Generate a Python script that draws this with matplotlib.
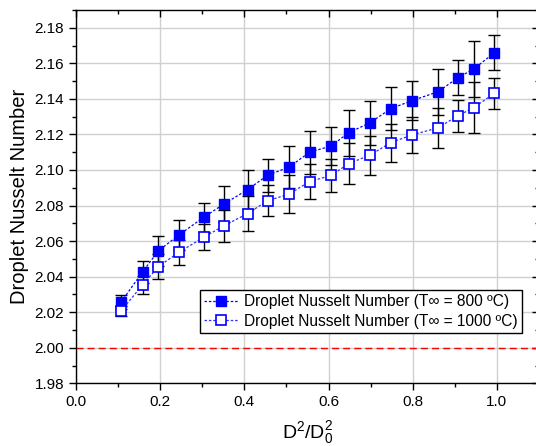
import numpy as np
import matplotlib
matplotlib.use("Agg")
import matplotlib.pyplot as plt
from matplotlib.ticker import MultipleLocator

plt.rcParams['font.family'] = ['Liberation Sans', 'DejaVu Sans']
plt.rcParams['mathtext.default'] = 'regular'

# D^2/D0^2 positions
x = [0.107, 0.158, 0.196, 0.245, 0.304, 0.351, 0.408, 0.455, 0.506, 0.555,
     0.606, 0.648, 0.698, 0.748, 0.798, 0.860, 0.908, 0.945, 0.994]

# Nusselt number, T = 800 C
nu_800 = [2.0257, 2.0426, 2.0546, 2.0635, 2.0735, 2.0808, 2.0890, 2.0970, 2.1016, 2.1100,
          2.1135, 2.1210, 2.1265, 2.1345, 2.1390, 2.1440, 2.1520, 2.1568, 2.1660]
err_800 = [0.0037, 0.0060, 0.0084, 0.0083, 0.0082, 0.0100, 0.0110, 0.0093, 0.0120, 0.0120,
           0.0105, 0.0130, 0.0125, 0.0120, 0.0110, 0.0130, 0.0100, 0.0160, 0.0100]

# Nusselt number, T = 1000 C
nu_1000 = [2.0207, 2.0353, 2.0457, 2.0538, 2.0622, 2.0686, 2.0755, 2.0827, 2.0864, 2.0935,
           2.0969, 2.1036, 2.1083, 2.1154, 2.1197, 2.1237, 2.1306, 2.1351, 2.1431]
err_1000 = [0.0027, 0.0050, 0.0070, 0.0070, 0.0073, 0.0090, 0.0097, 0.0087, 0.0107, 0.0100,
            0.0094, 0.0114, 0.0110, 0.0107, 0.0100, 0.0113, 0.0090, 0.0144, 0.0086]

fig = plt.figure(figsize=(5.36, 4.46), dpi=100)
ax = fig.add_axes([76 / 536, 1 - 383.3 / 446, 463 / 536, 373.3 / 446])

# reference line at Nu = 2
ax.axhline(2.0, color='red', linestyle=(0, (5, 3)), linewidth=1.0, zorder=2)

# error bars
ax.errorbar(x, nu_800, yerr=err_800, fmt='none', ecolor='black', elinewidth=1.0,
            capsize=4, capthick=1.0, zorder=3)
ax.errorbar(x, nu_1000, yerr=err_1000, fmt='none', ecolor='black', elinewidth=1.0,
            capsize=4, capthick=1.0, zorder=3)

# series
ax.plot(x, nu_800, color='#0000FF', linestyle=(0, (2, 1.5)), linewidth=0.9,
        marker='s', markersize=6.5, markerfacecolor='#0000FF', markeredgecolor='#0000FF',
        label='Droplet Nusselt Number (T∞ = 800 ºC)', zorder=4)
ax.plot(x, nu_1000, color='#3030FF', linestyle=(0, (2, 1.5)), linewidth=0.9,
        marker='s', markersize=6.5, markerfacecolor='white', markeredgecolor='#0000FF',
        markeredgewidth=1.2, label='Droplet Nusselt Number (T∞ = 1000 ºC)', zorder=4)

ax.set_xlim(0, 1.1)
ax.set_ylim(1.98, 2.19)
ax.xaxis.set_major_locator(MultipleLocator(0.2))
ax.xaxis.set_minor_locator(MultipleLocator(0.1))
ax.yaxis.set_minor_locator(MultipleLocator(0.01))
ax.set_yticks(np.arange(1.98, 2.181, 0.02))
ax.xaxis.set_major_formatter(plt.FormatStrFormatter('%.1f'))
ax.yaxis.set_major_formatter(plt.FormatStrFormatter('%.2f'))

ax.grid(True, which='major', color='#d0d0d0', linewidth=1.0, zorder=0)
ax.set_axisbelow(True)

ax.tick_params(axis='both', which='major', labelsize=11, length=5, width=1,
               direction='out', top=True, right=True)
ax.tick_params(axis='both', which='minor', length=3, width=1,
               direction='out', top=True, right=True)
for t in ax.xaxis.get_major_ticks() + ax.xaxis.get_minor_ticks():
    t.tick2line.set_marker(3)  # inward on top
for t in ax.yaxis.get_major_ticks() + ax.yaxis.get_minor_ticks():
    t.tick2line.set_marker(0)  # inward on right

for s in ax.spines.values():
    s.set_linewidth(1.0)

ax.set_xlabel('D$^2$/D$_0^2$', fontsize=14, labelpad=7)
ax.set_ylabel('Droplet Nusselt Number', fontsize=14.5, labelpad=4)

leg = ax.legend(loc='lower right', bbox_to_anchor=(522 / 536, 1 - 332.5 / 446),
                bbox_transform=fig.transFigure, fontsize=11.2, frameon=True,
                fancybox=False, edgecolor='black', framealpha=1,
                handlelength=2.2, borderpad=0.25, labelspacing=0.3,
                handletextpad=0.4, borderaxespad=0)
leg.get_frame().set_linewidth(1.0)

fig.savefig('out.png', dpi=100)
